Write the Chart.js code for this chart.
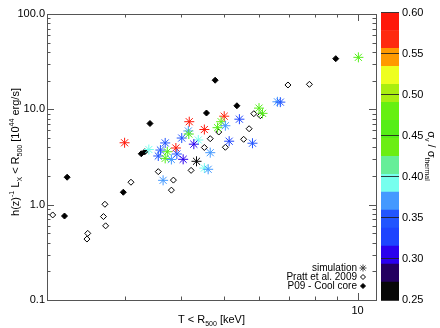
<!DOCTYPE html>
<html lang="en">
<head>
<meta charset="UTF-8">
<title>Lx - T relation</title>
<script src="https://cdn.jsdelivr.net/npm/chart.js"></script>
<style>
    html, body { margin: 0; padding: 0; background: #fff; }
    .wrap { position: relative; width: 440px; height: 328px; }
    #main { position: absolute; left: 0; top: 0; }
    #cbar { position: absolute; left: 370px; top: 0; }
</style>
</head>
<body>
<div class="wrap">
    <canvas id="main" width="440" height="328"></canvas>
    <canvas id="cbar" width="70" height="328"></canvas>
</div>
<script>
// simulation clusters: temperature, luminosity, velocity dispersion ratio
const simT = [2.99, 3.39, 3.60, 3.56, 3.69, 3.73, 3.69, 3.81, 3.90, 3.92,
              4.05, 4.02, 4.18, 4.16, 4.17, 4.38, 4.28, 4.34, 4.52, 4.66,
              3.65, 4.52, 4.61, 5.01, 4.93, 4.84, 5.04, 5.14, 5.42, 5.80,
              6.00, 6.11, 6.60, 6.70, 10.04];
const simL = [4.46, 3.79, 3.74, 3.24, 4.44, 3.59, 3.06, 2.98, 3.93, 3.40,
              2.99, 5.00, 7.42, 5.93, 5.51, 4.77, 4.31, 2.85, 6.14, 3.51,
              1.80, 2.42, 2.35, 8.47, 7.42, 6.42, 6.73, 4.63, 7.88, 4.41,
              10.3, 9.08, 12.0, 11.9, 35.1];
const simSigma = [0.58, 0.40, 0.34, 0.35, 0.35, 0.46, 0.45, 0.37, 0.58, 0.34,
                  0.30, 0.34, 0.59, 0.37, 0.46, 0.40, 0.31, 0.26, 0.58, 0.38,
                  0.37, 0.40, 0.37, 0.56, 0.47, 0.46, 0.38, 0.32, 0.33, 0.34,
                  0.46, 0.45, 0.36, 0.35, 0.45];

// Pratt et al. 2009
const prattT = [2.06, 2.47, 2.46, 2.70, 2.68, 2.71, 3.09, 3.56, 3.85, 3.81,
                4.22, 4.52, 4.66, 4.87, 5.04, 5.54, 5.70, 5.84, 6.04, 6.97, 7.79];
const prattL = [0.78, 0.50, 0.436, 1.01, 0.75, 0.60, 1.72, 2.22, 1.81, 1.42,
                2.29, 3.98, 4.92, 5.78, 4.00, 4.85, 6.26, 9.00, 8.58, 18.0, 18.3];

// P09 cool core subsample
const ccT = [2.22, 2.19, 2.97, 3.26, 3.32, 3.41, 4.57, 4.78, 5.35, 8.93];
const ccL = [1.94, 0.76, 1.35, 3.42, 3.59, 7.10, 9.15, 20.2, 10.9, 34.0];

const seriesLabels = ['simulation', 'Pratt et al. 2009', 'P09 - Cool core'];

// axis ticks
const xTicks = [10];
const xMinor = [3, 4, 5, 6, 7, 8, 9];
const yTicks = [0.1, 1, 10, 100];
const yMinor = [0.2, 0.3, 0.4, 0.5, 0.6, 0.7, 0.8, 0.9, 2, 3, 4, 5, 6, 7, 8, 9, 20, 30, 40, 50, 60, 70, 80, 90];

// colour bar levels (bottom to top) and colours
const cbLevels = [0.25, 0.2719, 0.2938, 0.3156, 0.3375, 0.3594, 0.3813, 0.4031, 0.425,
                  0.4469, 0.4688, 0.4906, 0.5125, 0.5344, 0.5563, 0.5781, 0.60];
const cbColors = ['#080808', '#230060', '#2a00ee', '#1e44ff', '#2255ff', '#4499ff', '#77ffee', '#66ee99',
                  '#6cee14', '#55ee18', '#66f010', '#aaee10', '#eeff20', '#ff9a00', '#ff2a0f', '#ff180a'];
const cbTicks = [0.25, 0.30, 0.35, 0.40, 0.45, 0.50, 0.55, 0.60];

// titles with sub/superscripts
const xTitle = [['T < R'], ['500', 'sub'], [' [keV]']];
const yTitle = [['h(z)'], ['-1', 'sup'], [' L'], ['X', 'sub'], [' < R'], ['500', 'sub'], [' [10'], ['44', 'sup'], [' erg/s]']];
const cbTitle = [['\u03c3'], ['v', 'sub'], [' / \u03c3'], ['thermal', 'sub']];

const FONT = '"Liberation Sans", Arial, Helvetica, sans-serif';

function sigmaColor(s) {
    for (let i = 0; i < cbColors.length; i++) {
        if (s < cbLevels[i + 1]) return cbColors[i];
    }
    return cbColors[cbColors.length - 1];
}

function drawRich(ctx, segs, cx, cy, rot, size) {
    const small = Math.round(size * 0.68);
    let w = 0;
    segs.forEach(([t, k]) => {
        ctx.font = (k ? small : size) + 'px ' + FONT;
        w += ctx.measureText(t).width;
    });
    ctx.save();
    ctx.translate(cx, cy);
    ctx.rotate(rot);
    ctx.fillStyle = '#000';
    ctx.textBaseline = 'alphabetic';
    ctx.textAlign = 'left';
    let x = -w / 2;
    const base = size * 0.36;
    segs.forEach(([t, k]) => {
        ctx.font = (k ? small : size) + 'px ' + FONT;
        const dy = k === 'sub' ? size * 0.3 : (k === 'sup' ? -size * 0.42 : 0);
        ctx.fillText(t, x, base + dy);
        x += ctx.measureText(t).width;
    });
    ctx.restore();
}

function drawStar(ctx, x, y, r) {
    const d = r * Math.SQRT1_2;
    ctx.beginPath();
    ctx.moveTo(x - r, y); ctx.lineTo(x + r, y);
    ctx.moveTo(x, y - r); ctx.lineTo(x, y + r);
    ctx.moveTo(x - d, y - d); ctx.lineTo(x + d, y + d);
    ctx.moveTo(x - d, y + d); ctx.lineTo(x + d, y - d);
    ctx.stroke();
}

function drawDiamond(ctx, x, y, r, filled) {
    ctx.beginPath();
    ctx.moveTo(x, y - r); ctx.lineTo(x + r, y); ctx.lineTo(x, y + r); ctx.lineTo(x - r, y);
    ctx.closePath();
    if (filled) ctx.fill();
    ctx.stroke();
}

// box with inward ticks on all four sides, plus titles
const frameTicks = {
    id: 'frameTicks',
    afterDraw(chart) {
        const { ctx, chartArea: a, scales: { x, y } } = chart;
        ctx.save();
        ctx.strokeStyle = '#555';
        ctx.lineWidth = 1;
        ctx.strokeRect(Math.round(a.left) + 0.5, Math.round(a.top) + 0.5,
                       Math.round(a.right - a.left), Math.round(a.bottom - a.top));
        ctx.beginPath();
        const yt = (vals, len) => vals.forEach(v => {
            const p = Math.round(y.getPixelForValue(v)) + 0.5;
            if (p < a.top || p > a.bottom) return;
            ctx.moveTo(a.left, p); ctx.lineTo(a.left + len, p);
            ctx.moveTo(a.right, p); ctx.lineTo(a.right - len, p);
        });
        const xt = (vals, len) => vals.forEach(v => {
            const p = Math.round(x.getPixelForValue(v)) + 0.5;
            if (p < a.left || p > a.right) return;
            ctx.moveTo(p, a.bottom); ctx.lineTo(p, a.bottom - len);
            ctx.moveTo(p, a.top); ctx.lineTo(p, a.top + len);
        });
        yt(yTicks, 7); yt(yMinor, 3.5);
        xt(xTicks, 7); xt(xMinor, 3.5);
        ctx.stroke();
        ctx.restore();

        drawRich(ctx, xTitle, (a.left + a.right) / 2, 319, 0, 11);
        drawRich(ctx, yTitle, 15, 152, -Math.PI / 2, 11);
    }
};

// legend in the lower right corner: text first, symbol after
const cornerLegend = {
    id: 'cornerLegend',
    afterDraw(chart) {
        const { ctx, chartArea: a } = chart;
        ctx.save();
        ctx.font = '10px ' + FONT;
        ctx.textAlign = 'right';
        ctx.textBaseline = 'middle';
        ctx.fillStyle = '#000';
        ctx.lineWidth = 1;
        seriesLabels.forEach((lab, i) => {
            const yy = a.bottom - 32 + i * 9;
            ctx.fillStyle = '#000';
            ctx.fillText(lab, a.right - 19, yy);
            const sx = a.right - 13;
            if (i === 0) {
                ctx.strokeStyle = '#444';
                drawStar(ctx, sx, yy, 3.5);
            } else {
                ctx.strokeStyle = '#000';
                ctx.fillStyle = i === 2 ? '#000' : '#fff';
                drawDiamond(ctx, sx, yy, 2.5, true);
            }
        });
        ctx.restore();
    }
};

const tickFont = { family: FONT, size: 11 };

new Chart(document.getElementById('main'), {
    type: 'scatter',
    data: {
        datasets: [
            {
                label: seriesLabels[0],
                data: simT.map((t, i) => ({ x: t, y: simL[i] })),
                pointStyle: 'star',
                pointRadius: 5,
                pointBorderWidth: 1,
                pointBorderColor: simSigma.map(sigmaColor),
                pointBackgroundColor: simSigma.map(sigmaColor)
            },
            {
                label: seriesLabels[1],
                data: prattT.map((t, i) => ({ x: t, y: prattL[i] })),
                pointStyle: 'rectRot',
                pointRadius: 3,
                pointBorderWidth: 1,
                pointBorderColor: '#000',
                pointBackgroundColor: '#fff'
            },
            {
                label: seriesLabels[2],
                data: ccT.map((t, i) => ({ x: t, y: ccL[i] })),
                pointStyle: 'rectRot',
                pointRadius: 3,
                pointBorderWidth: 1,
                pointBorderColor: '#000',
                pointBackgroundColor: '#000'
            }
        ]
    },
    options: {
        responsive: false,
        animation: false,
        devicePixelRatio: 1,
        layout: { padding: { top: 14, right: 64, left: 0, bottom: 0 } },
        plugins: { legend: { display: false }, tooltip: { enabled: false } },
        scales: {
            x: {
                type: 'logarithmic',
                min: 2,
                max: 11,
                afterFit: s => { s.height = 28; },
                afterBuildTicks: s => { s.ticks = xTicks.map(v => ({ value: v })); },
                ticks: { callback: v => String(v), font: tickFont, color: '#000', padding: 4, maxRotation: 0, autoSkip: false },
                grid: { display: false, drawTicks: false },
                border: { display: false }
            },
            y: {
                type: 'logarithmic',
                min: 0.1,
                max: 100,
                afterFit: s => { s.width = 47; },
                afterBuildTicks: s => { s.ticks = yTicks.map(v => ({ value: v })); },
                ticks: { callback: v => Number(v).toFixed(1), font: tickFont, color: '#000', padding: 2, autoSkip: false },
                grid: { display: false, drawTicks: false },
                border: { display: false }
            }
        }
    },
    plugins: [frameTicks, cornerLegend]
});

const cbTitlePlugin = {
    id: 'cbTitle',
    afterDraw(chart) {
        drawRich(chart.ctx, cbTitle, 62, 156, Math.PI / 2, 11);
    }
};

new Chart(document.getElementById('cbar'), {
    type: 'bar',
    data: {
        labels: [''],
        datasets: cbColors.map((c, i) => ({
            data: [[cbLevels[i], cbLevels[i + 1]]],
            backgroundColor: c,
            borderWidth: 0,
            barPercentage: 1,
            categoryPercentage: 1,
            grouped: false
        }))
    },
    options: {
        responsive: false,
        animation: false,
        devicePixelRatio: 1,
        layout: { padding: { left: 11, top: 12.5, bottom: 28, right: 0 } },
        plugins: { legend: { display: false }, tooltip: { enabled: false } },
        scales: {
            x: { display: false },
            y: {
                position: 'right',
                min: 0.25,
                max: 0.60,
                afterFit: s => { s.width = 41; },
                afterBuildTicks: s => { s.ticks = cbTicks.map(v => ({ value: v })); },
                ticks: { callback: v => Number(v).toFixed(2), font: tickFont, color: '#000', padding: 3, autoSkip: false },
                grid: { color: 'rgba(30,30,30,0.85)', lineWidth: 1, drawTicks: false, z: 1 },
                border: { display: false }
            }
        }
    },
    plugins: [cbTitlePlugin]
});
</script>
</body>
</html>
